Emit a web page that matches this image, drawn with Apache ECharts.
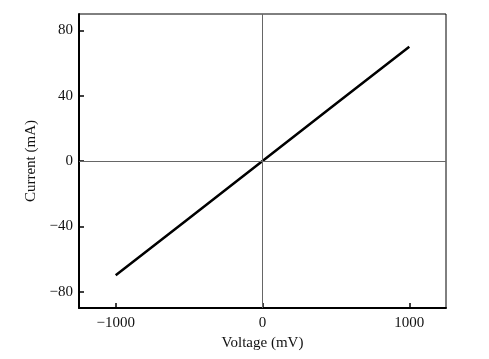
<!DOCTYPE html>
<html>
<head>
<meta charset="utf-8">
<script src="https://cdn.jsdelivr.net/npm/echarts@6/dist/echarts.min.js"></script>
<style>html,body{margin:0;padding:0;background:#fff}#c{width:489px;height:359px}</style>
</head>
<body>
<div id="c"></div>
<script>
const voltage = [-1000, -500, 0, 500, 1000];
const current = [-70, -35, 0, 35, 70];
const xTicks = [-1000, 0, 1000];
const yTicks = [-80, -40, 0, 40, 80];

const font = 'Liberation Serif';
const fmt = v => String(v).replace('-', '\u2212');
const chart = echarts.init(document.getElementById('c'));
chart.setOption({
  animation: false,
  grid: {left: 79, right: 43, top: 14, bottom: 51, show: true, borderColor: '#000', borderWidth: 1},
  xAxis: {
    type: 'value', min: -1250, max: 1250,
    name: 'Voltage (mV)', nameLocation: 'middle', nameGap: 27,
    nameTextStyle: {fontFamily: font, fontSize: 15, color: '#111'},
    axisLine: {onZero: false, lineStyle: {color: '#000', width: 2}},
    axisTick: {inside: true, length: 5, customValues: xTicks, lineStyle: {color: '#000', width: 1.5}},
    axisLabel: {customValues: xTicks, formatter: fmt, fontFamily: font, fontSize: 15, color: '#111', margin: 8},
    splitLine: {show: false}
  },
  yAxis: {
    type: 'value', min: -90, max: 90,
    name: 'Current (mA)', nameLocation: 'middle', nameGap: 33,
    nameTextStyle: {fontFamily: font, fontSize: 15, color: '#111'},
    axisLine: {onZero: false, lineStyle: {color: '#000', width: 2}},
    axisTick: {inside: true, length: 5, customValues: yTicks, lineStyle: {color: '#000', width: 1.5}},
    axisLabel: {customValues: yTicks, formatter: fmt, fontFamily: font, fontSize: 15, color: '#111', margin: 6},
    splitLine: {show: false}
  },
  series: [{
    type: 'line', data: voltage.map((v, i) => [v, current[i]]),
    showSymbol: false, lineStyle: {color: '#000', width: 2.5},
    markLine: {
      silent: true, symbol: 'none', label: {show: false},
      lineStyle: {color: '#666', width: 1, type: 'solid'},
      data: [{xAxis: 0}, {yAxis: 0}]
    }
  }]
});
</script>
</body>
</html>
